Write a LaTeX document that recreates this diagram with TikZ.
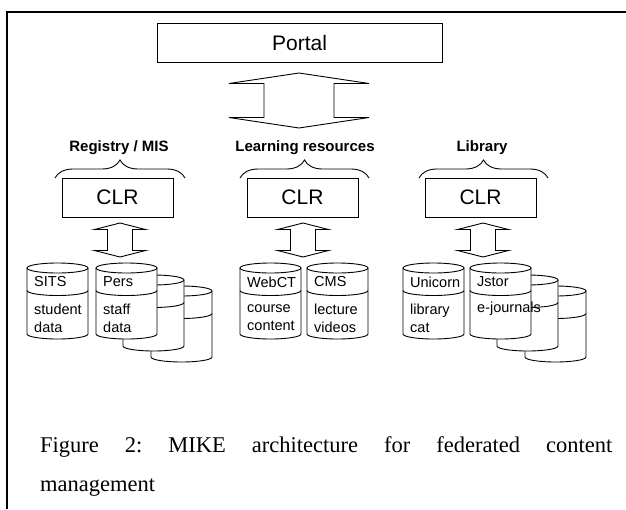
\documentclass[tikz,border=0pt]{standalone}
\usepackage{fontspec}
\setmainfont{Liberation Serif}
\newfontfamily\arialf{Liberation Sans}
\usetikzlibrary{decorations.pathreplacing}

\tikzset{
  boxnode/.style={draw,line width=0.9pt,inner sep=0pt,font=\arialf\fontsize{21}{24}\selectfont},
  grouplabel/.style={inner sep=0pt,font=\arialf\bfseries\fontsize{15}{18}\selectfont},
  dbtext/.style={anchor=west,align=left,inner sep=0pt,font=\arialf\fontsize{14.5}{18}\selectfont},
  curly/.style={decorate,decoration={brace,amplitude=18pt},line width=0.9pt},
  % database drum, origin = top left corner
  pics/drum/.style={code={
    \fill[white] (0,5) -- (0,71) .. controls (0,73.76) and (13.66,76) .. (30.5,76)
      .. controls (47.34,76) and (61,73.76) .. (61,71) -- (61,5) -- cycle;
    \draw[line width=0.9pt] (0,5) -- (0,71) .. controls (0,73.76) and (13.66,76) .. (30.5,76)
      .. controls (47.34,76) and (61,73.76) .. (61,71) -- (61,5);
    \draw[line width=0.9pt,fill=white] (30.5,5) ellipse [x radius=30.5,y radius=5];
    \draw[line width=0.9pt] (0,27.5) .. controls (0,30.26) and (13.66,32.5) .. (30.5,32.5)
      .. controls (47.34,32.5) and (61,30.26) .. (61,27.5);
  }},
  % double block arrow: length, head, half head width, half shaft width
  pics/blockarrow/.style n args={4}{code={
    \draw[line width=0.9pt] (0,{-#1/2}) -- ({-#3},{-#1/2+#2}) -- ({-#4},{-#1/2+#2})
      -- ({-#4},{#1/2-#2}) -- ({-#3},{#1/2-#2}) -- (0,{#1/2}) -- (#3,{#1/2-#2})
      -- (#4,{#1/2-#2}) -- (#4,{-#1/2+#2}) -- (#3,{-#1/2+#2}) -- cycle;
  }}
}

\begin{document}
\begin{tikzpicture}[x={(1pt,0pt)},y={(0pt,-1pt)}]
\useasboundingbox (0,0) rectangle (626,509);
\draw[line width=1.3pt] (626,12) -- (7,12) -- (7,509);

\node[boxnode,minimum width=285pt,minimum height=39pt] (portal) at (299.5,42.5) {Portal};
\pic at (299,100.5) {blockarrow={55}{10.5}{70}{35}};

% the three groups
\node[grouplabel] (reglab) at (119,148) {Registry / MIS};
\node[grouplabel] (learnlab) at (305,148) {Learning resources};
\node[grouplabel] (liblab) at (482,148) {Library};
\draw[curly] (55,178) -- (185,178);
\draw[curly] (240,178) -- (369,178);
\draw[curly] (419,178) -- (548,178);

\node[boxnode,minimum width=111pt,minimum height=39pt] (clrreg) at (117.5,197.5) {CLR};
\node[boxnode,minimum width=111pt,minimum height=39pt] (clrlearn) at (302.5,197.5) {CLR};
\node[boxnode,minimum width=111pt,minimum height=39pt] (clrlib) at (480.5,197.5) {CLR};

\foreach \ax in {120,303,483}
  \pic at (\ax,240) {blockarrow={34}{6.5}{25.5}{12.5}};

% stacked drums behind
\foreach \gx in {96,470} {
  \pic at ({\gx+55},286) {drum};
  \pic at ({\gx+27},275) {drum};
}
\foreach \cx in {27,96,240,307,403,470}
  \pic at (\cx,263) {drum};

\node[dbtext] (sits) at (34,282) {SITS};
\node[dbtext] (sitsdata) at (34,318) {student\\data};
\node[dbtext] (pers) at (103,282) {Pers};
\node[dbtext] (persdata) at (103,318) {staff\\data};
\node[dbtext] (webct) at (247,282) {WebCT};
\node[dbtext] (webctdata) at (247,318) {course\\content};
\node[dbtext] (cms) at (314,282) {CMS};
\node[dbtext] (cmsdata) at (314,318) {lecture\\videos};
\node[dbtext] (unicorn) at (410,282) {Unicorn};
\node[dbtext] (unicorndata) at (410,318) {library\\cat};
\node[dbtext] (jstor) at (477,282) {Jstor};
\node[dbtext] (jstordata) at (477,309) {e-journals};

\node[anchor=north west,inner sep=0pt,text width=572pt,align=justify,
  font=\fontsize{22.5}{39}\selectfont\frenchspacing] (caption) at (40,436)
  {Figure 2: MIKE architecture for federated content\linebreak management};
\end{tikzpicture}
\end{document}
